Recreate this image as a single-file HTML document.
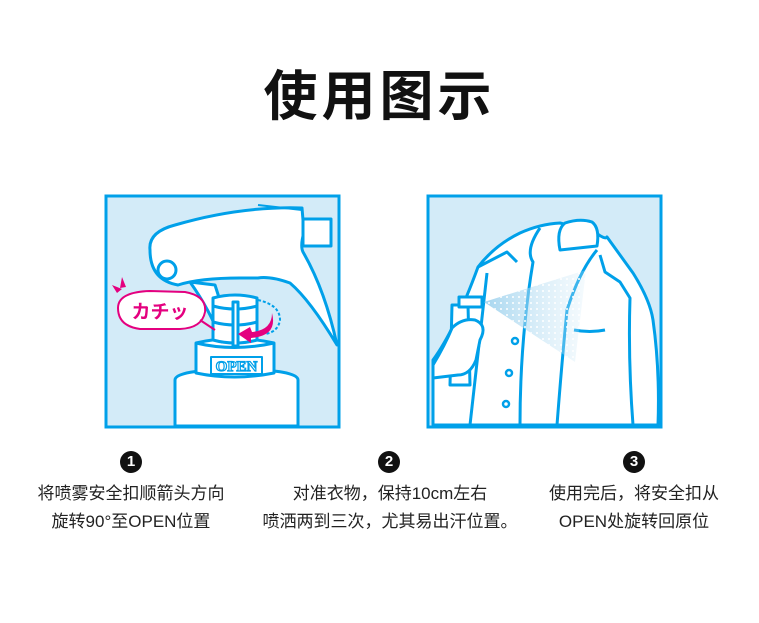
<!DOCTYPE html>
<html><head><meta charset="utf-8"><style>
html,body{margin:0;padding:0;background:#fff;}
body{width:759px;height:623px;position:relative;overflow:hidden;font-family:"Liberation Sans","Noto Sans CJK SC",sans-serif;}
.t{position:absolute;left:0;width:759px;top:62px;text-align:center;font-size:54px;font-weight:bold;color:#111;letter-spacing:4px;line-height:70px;}
.cap{position:absolute;width:270px;text-align:center;font-size:17px;color:#222;line-height:28px;top:480px;}
.num{position:absolute;top:451px;width:22px;height:22px;border-radius:50%;background:#111;color:#fff;font-size:15px;font-weight:bold;text-align:center;line-height:22px;}
svg{position:absolute;left:0;top:0;}
</style></head><body>
<div class="t">使用图示</div>
<svg width="759" height="623" viewBox="0 0 759 623">
<defs>
<pattern id="dots" width="6" height="6" patternUnits="userSpaceOnUse"><circle cx="3" cy="3" r="1" fill="#fff"/></pattern>
<linearGradient id="sp" x1="0" x2="1"><stop offset="0" stop-color="#8fcbeb"/><stop offset="1" stop-color="#d3ebf8" stop-opacity="0.3"/></linearGradient>
</defs>
<!-- panel 1 -->
<rect x="106" y="196" width="233" height="231" fill="#d3ebf8" stroke="#00a0e9" stroke-width="3"/>
<g stroke="#00a0e9" stroke-width="3" fill="#fff" stroke-linejoin="round">
<path d="M175,426 L175,380 Q175,370 237,369 Q298,370 298,380 L298,426 Z"/>
<path d="M196,373 L196,343 Q234,334 274,343 L274,373 Q234,381 196,373 Z"/>
<path d="M196,343 Q234,352 274,343" fill="none"/>
<path d="M190,282 Q210,310 222,342 L232,338 L215,285 Z"/>
<path d="M150,250 Q148,232 175,225 Q240,206 302,208 L304,232 Q300,246 303,252 Q325,290 337,345 Q310,300 290,283 Q270,276 258,278 L240,278 Q200,278 178,285 Q150,280 150,250 Z"/>
<path d="M258,205 L302,210" fill="none" stroke-width="2"/>
<rect x="303" y="219" width="28" height="27" fill="#fff"/>
<circle cx="167" cy="270" r="9"/>
<path d="M213,340 L213,298 Q235,292 257,298 L257,340 Q235,346 213,340 Z"/>
<path d="M213,306 Q235,312 257,306 M213,322 Q235,328 257,322" fill="none"/>
<rect x="233" y="302" width="5" height="44"/>
<rect x="211" y="357" width="51" height="17" fill="#fff" stroke-width="2"/>
</g>
<text x="236.5" y="371" font-family="Liberation Serif,serif" font-size="15" font-weight="bold" fill="#fff" stroke="#00a0e9" stroke-width="1.2" text-anchor="middle">OPEN</text>
<path d="M258,300 Q280,305 280,320 Q278,332 265,334" fill="none" stroke="#00a0e9" stroke-width="2" stroke-dasharray="3,2"/>
<path d="M272,313 Q272,330 252,332 L250,327 L238,334 L251,343 L251,338 Q278,336 272,313 Z" fill="#e4007f"/>
<path d="M118,308 Q118,292 150,291 L185,292 Q207,296 205,312 Q202,328 180,329 L140,329 Q118,326 118,308 Z" fill="#fff" stroke="#e4007f" stroke-width="2"/>
<path d="M200,320 L215,330" stroke="#e4007f" stroke-width="2"/>
<text x="160" y="318" font-size="19" font-weight="bold" fill="#e4007f" text-anchor="middle">カチッ</text>
<path d="M112,285 L122,289 L117,293 Z M122,277 L126,287 L120,288 Z" fill="#e4007f"/>
<!-- panel 2 -->
<rect x="428" y="196" width="233" height="231" fill="#d3ebf8" stroke="#00a0e9" stroke-width="3"/>
<g stroke="#00a0e9" stroke-width="3" fill="#fff" stroke-linejoin="round">
<path d="M433,425 L433,360 Q455,330 478,267 Q495,245 520,233 Q540,224 560,223 L595,232 Q605,240 607,237 L633,273 Q650,300 653,320 Q660,370 658,425 Z"/>
<path d="M487,273 L470,425" fill="none"/>
<path d="M478,267 L507,252 L517,262" fill="none"/>
<path d="M540,228 Q525,250 533,262 Q520,340 520,425" fill="none"/>
<path d="M557,425 Q562,360 567,310 Q580,270 597,250" fill="none"/>
<path d="M600,255 L605,272 L620,282 L630,298 Q628,360 633,425" fill="none"/>
<path d="M574,330 Q590,333 605,330" fill="none"/>
<path d="M560,250 Q556,230 565,223 Q580,218 592,222 Q600,228 597,246 Z"/>
<path d="M450,385 L452,305 L468,305 L470,385 Z"/>
<path d="M433,365 Q445,345 452,328 Q462,318 475,320 Q488,325 480,340 L476,360 Q470,375 458,375 L433,378 Z"/>
<rect x="459" y="297" width="23" height="10" fill="#fff"/>
</g>
<path d="M484,302 L586,270 L575,362 Z" fill="url(#sp)" opacity="0.8"/>
<path d="M484,302 L586,270 L575,362 Z" fill="url(#dots)"/>
<g fill="#fff" stroke="#00a0e9" stroke-width="2.5">
<circle cx="515" cy="341" r="3"/><circle cx="509" cy="373" r="3"/><circle cx="506" cy="404" r="3"/>
</g>
</svg>
<div class="num" style="left:120px">1</div>
<div class="num" style="left:378px">2</div>
<div class="num" style="left:623px">3</div>
<div class="cap" style="left:-4px">将喷雾安全扣顺箭头方向<br>旋转90°至OPEN位置</div>
<div class="cap" style="left:255px">对准衣物，保持10cm左右<br>喷洒两到三次，尤其易出汗位置。</div>
<div class="cap" style="left:499px">使用完后，将安全扣从<br>OPEN处旋转回原位</div>
</body></html>
